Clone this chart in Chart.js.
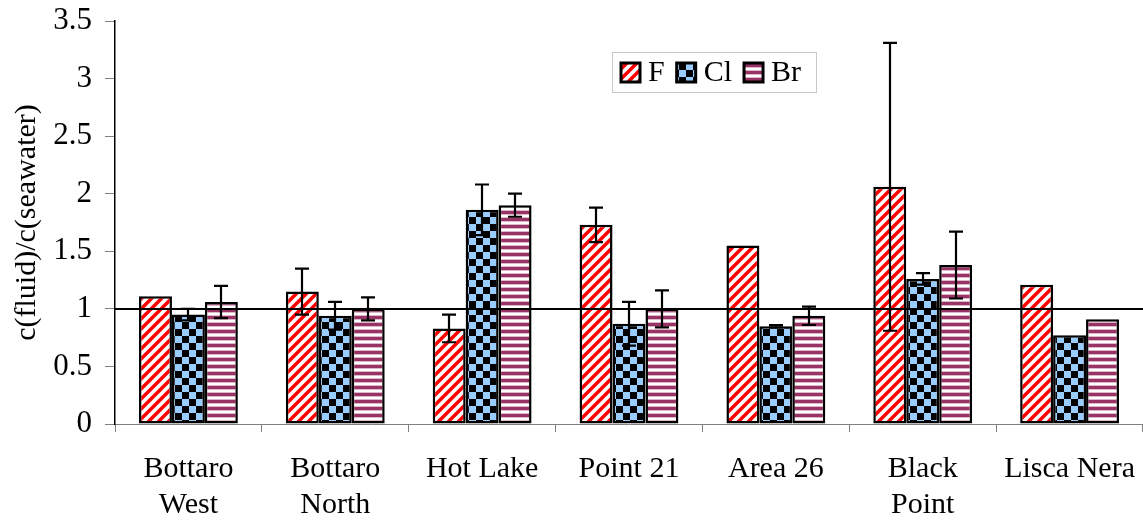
<!DOCTYPE html>
<html>
<head>
<meta charset="utf-8">
<script src="https://cdn.jsdelivr.net/npm/chart.js@4/dist/chart.umd.min.js"></script>
<style>
  html, body { margin: 0; padding: 0; background: #fff; overflow: hidden; }
  #wrap { width: 1143px; height: 520px; }
</style>
</head>
<body>
<div id="wrap"><canvas id="ratio-chart" width="1143" height="520"></canvas></div>
<script>
// Sites and measured fluid/seawater concentration ratios
const sites = [['Bottaro', 'West'], ['Bottaro', 'North'], 'Hot Lake', 'Point 21', 'Area 26', ['Black', 'Point'], 'Lisca Nera'];
const seriesNames = ['F', 'Cl', 'Br'];

const fluorine = [1.11, 1.15, 0.83, 1.73, 1.55, 2.06, 1.21];
const chlorine = [0.95, 0.94, 1.86, 0.87, 0.85, 1.26, 0.77];
const bromine  = [1.06, 1.00, 1.90, 1.00, 0.94, 1.38, 0.91];

// +/- error for each value
const fluorineErr = [0.00, 0.20, 0.12, 0.15, 0.00, 1.25, 0.00];
const chlorineErr = [0.05, 0.12, 0.22, 0.19, 0.01, 0.05, 0.00];
const bromineErr  = [0.14, 0.10, 0.10, 0.16, 0.08, 0.29, 0.00];

const yTicks = [0, 0.5, 1, 1.5, 2, 2.5, 3, 3.5];
const seawaterLevel = 1;

const fontFamily = "'Liberation Serif', 'Times New Roman', serif";
Chart.defaults.font.family = fontFamily;
Chart.defaults.color = '#000';

// Fill patterns for the three series
function stripePattern() {
    const c = document.createElement('canvas');
    c.width = 10; c.height = 10;
    const g = c.getContext('2d');
    g.fillStyle = '#fff';
    g.fillRect(0, 0, 10, 10);
    g.strokeStyle = '#ff0000';
    g.lineWidth = 3.5;
    g.beginPath();
    g.moveTo(-5, 5); g.lineTo(5, -5);
    g.moveTo(0, 10); g.lineTo(10, 0);
    g.moveTo(5, 15); g.lineTo(15, 5);
    g.stroke();
    return g.createPattern(c, 'repeat');
}

function checkerPattern() {
    const c = document.createElement('canvas');
    c.width = 14; c.height = 14;
    const g = c.getContext('2d');
    g.fillStyle = '#99ccff';
    g.fillRect(0, 0, 14, 14);
    g.fillStyle = '#000';
    g.fillRect(0, 0, 7, 7);
    g.fillRect(7, 7, 7, 7);
    return g.createPattern(c, 'repeat');
}

function bandPattern() {
    const c = document.createElement('canvas');
    c.width = 7; c.height = 7;
    const g = c.getContext('2d');
    g.fillStyle = '#fff';
    g.fillRect(0, 0, 7, 7);
    g.fillStyle = '#dcb8c8';
    g.fillRect(0, 0, 7, 1);
    g.fillRect(0, 4, 7, 1);
    g.fillStyle = '#993366';
    g.fillRect(0, 1, 7, 3);
    return g.createPattern(c, 'repeat');
}

const fills = [stripePattern(), checkerPattern(), bandPattern()];
const values = [fluorine, chlorine, bromine];
const errors = [fluorineErr, chlorineErr, bromineErr];

// Horizontal line at the seawater level plus error bars
const overlays = {
    id: 'overlays',
    afterDatasetsDraw(chart) {
        const ctx = chart.ctx;
        const area = chart.chartArea;
        const y = chart.scales.y;
        ctx.save();
        ctx.strokeStyle = '#000';
        ctx.lineWidth = 2;
        const yLine = Math.round(y.getPixelForValue(seawaterLevel));
        ctx.beginPath();
        ctx.moveTo(area.left, yLine);
        ctx.lineTo(area.right, yLine);
        ctx.stroke();

        ctx.lineWidth = 2.2;
        chart.data.datasets.forEach((ds, i) => {
            const meta = chart.getDatasetMeta(i);
            meta.data.forEach((bar, j) => {
                const e = errors[i][j];
                if (!e) return;
                const v = values[i][j];
                const top = y.getPixelForValue(v + e);
                const bot = y.getPixelForValue(v - e);
                const x = Math.round(bar.x);
                ctx.beginPath();
                ctx.moveTo(x, top); ctx.lineTo(x, bot);
                ctx.moveTo(x - 7, top); ctx.lineTo(x + 7, top);
                ctx.moveTo(x - 7, bot); ctx.lineTo(x + 7, bot);
                ctx.stroke();
            });
        });
        ctx.restore();
    }
};

// Boxed legend inside the plot
const boxLegend = {
    id: 'boxLegend',
    afterDraw(chart) {
        const ctx = chart.ctx;
        const bx = 612, by = 52, bw = 204, bh = 40;
        ctx.save();
        ctx.fillStyle = '#fff';
        ctx.fillRect(bx, by, bw, bh);
        ctx.strokeStyle = '#c8c8c8';
        ctx.lineWidth = 1;
        ctx.strokeRect(bx + 0.5, by + 0.5, bw, bh);
        ctx.font = '30px ' + fontFamily;
        ctx.textBaseline = 'middle';
        let x = bx + 9;
        const cy = by + bh / 2;
        chart.data.datasets.forEach((ds) => {
            ctx.fillStyle = ds.backgroundColor;
            ctx.fillRect(x, cy - 9, 19, 19);
            ctx.strokeStyle = '#000';
            ctx.lineWidth = 3;
            ctx.strokeRect(x, cy - 9, 19, 19);
            ctx.fillStyle = '#000';
            ctx.fillText(ds.label, x + 27, cy + 1);
            x += 27 + ctx.measureText(ds.label).width + 12;
        });
        ctx.restore();
    }
};

const datasets = seriesNames.map((name, i) => ({
    label: name,
    data: values[i],
    backgroundColor: fills[i],
    borderColor: '#000',
    borderWidth: 2.5,
    borderSkipped: false,
    barPercentage: 1,
    categoryPercentage: 0.673
}));

new Chart(document.getElementById('ratio-chart'), {
    type: 'bar',
    data: { labels: sites, datasets: datasets },
    options: {
        responsive: false,
        devicePixelRatio: 1,
        animation: false,
        layout: { padding: { top: 21, right: 0, left: 0, bottom: 0 } },
        plugins: {
            legend: { display: false },
            tooltip: { enabled: false }
        },
        scales: {
            x: {
                grid: { display: true, drawOnChartArea: false, drawTicks: true, tickLength: 8, color: '#808080', offset: true },
                border: { display: true, color: '#808080', width: 1 },
                ticks: {
                    color: '#000',
                    font: { family: fontFamily, size: 30, lineHeight: 1.17 },
                    padding: 20,
                    maxRotation: 0,
                    autoSkip: false
                },
                afterFit(scale) {
                    scale.height = 96;
                    scale.paddingLeft = 0;
                    scale.paddingRight = 0;
                }
            },
            y: {
                min: 0,
                max: 3.5,
                afterBuildTicks(scale) { scale.ticks = yTicks.map(v => ({ value: v })); },
                grid: { display: true, drawOnChartArea: false, drawTicks: true, tickLength: 10, color: '#808080' },
                border: { display: true, color: '#000', width: 1.5 },
                ticks: {
                    color: '#000',
                    font: { family: fontFamily, size: 31 },
                    padding: 13,
                    callback: (v) => String(v)
                },
                title: {
                    display: true,
                    text: 'c(fluid)/c(seawater)',
                    color: '#000',
                    font: { family: fontFamily, size: 30 },
                    padding: { top: 9, bottom: 0 }
                },
                afterFit(scale) {
                    scale.width = 115;
                    scale.paddingTop = 0;
                    scale.paddingBottom = 0;
                }
            }
        }
    },
    plugins: [overlays, boxLegend]
});
</script>
</body>
</html>
